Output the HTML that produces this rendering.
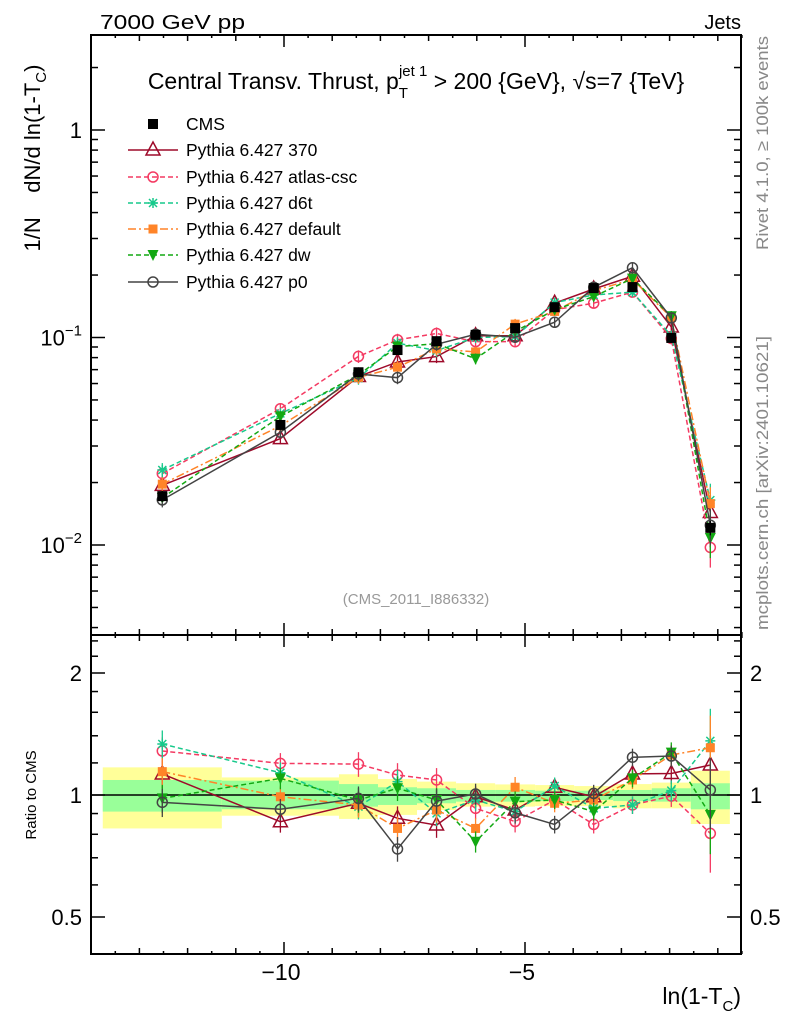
<!DOCTYPE html>
<html><head><meta charset="utf-8">
<style>
html,body{margin:0;padding:0;background:#fff;}
svg{display:block;font-family:"Liberation Sans",sans-serif;}
</style></head>
<body>
<svg id="c" width="786" height="1024" viewBox="0 0 786 1024" xmlns="http://www.w3.org/2000/svg">
<text x="100" y="29" font-size="20" textLength="145" lengthAdjust="spacingAndGlyphs">7000 GeV pp</text>
<text x="741" y="29" font-size="20" text-anchor="end">Jets</text>
<text x="416" y="89" font-size="23" text-anchor="middle">Central Transv. Thrust, p<tspan font-size="15" dy="9">T</tspan><tspan font-size="15" dx="-9" dy="-22">jet 1</tspan><tspan dy="13"> &gt; 200 {GeV}, √s=7 {TeV}</tspan></text>
<text x="416" y="604" font-size="15" fill="#999" text-anchor="middle">(CMS_2011_I886332)</text>
<text transform="translate(40,158) rotate(-90)" font-size="22" text-anchor="middle">1/N &#160;&#160; dN/d ln(1-T<tspan font-size="15" dy="6">C</tspan><tspan dy="-6">)</tspan></text>
<text transform="translate(768,250) rotate(-90)" font-size="17" fill="#888" textLength="214" lengthAdjust="spacingAndGlyphs">Rivet 4.1.0, ≥ 100k events</text>
<text transform="translate(768,630) rotate(-90)" font-size="17" fill="#888" textLength="294" lengthAdjust="spacingAndGlyphs">mcplots.cern.ch [arXiv:2401.10621]</text>
<text transform="translate(36,795) rotate(-90)" font-size="15" text-anchor="middle">Ratio to CMS</text>
<text x="741" y="1004" font-size="23" text-anchor="end">ln(1-T<tspan font-size="15" dy="7">C</tspan><tspan dy="-7">)</tspan></text>
<g id="bands"></g><g id="grid"></g><g id="series"></g><g id="legend"></g>
</svg>
<script>
const binEdges = [-13.76,-11.29,-8.86,-8.05,-7.24,-6.43,-5.62,-4.79,-3.98,-3.17,-2.37,-1.56,-0.75];
const cmsValues = [0.0172,0.0379,0.068,0.087,0.096,0.103,0.111,0.140,0.173,0.175,0.0995,0.0121];
const cmsErr = [0.06,0.05,0.05,0.05,0.04,0.04,0.04,0.04,0.04,0.04,0.05,0.08];
const yellowHi = [1.170,1.105,1.125,1.095,1.079,1.069,1.062,1.058,1.052,1.064,1.073,1.148];
const yellowLo = [0.827,0.889,0.873,0.893,0.918,0.936,0.936,0.939,0.939,0.927,0.927,0.848];
const greenHi = [1.089,1.085,1.064,1.045,1.039,1.029,1.029,1.025,1.025,1.029,1.039,1.069];
const greenLo = [0.910,0.922,0.936,0.945,0.954,0.963,0.963,0.966,0.972,0.966,0.963,0.922];
const ratio370 = [1.127,0.859,0.954,0.876,0.843,0.99,0.918,1.045,0.99,1.127,1.13,1.186];
const ratioAtlas = [1.284,1.197,1.192,1.12,1.089,0.927,0.86,0.972,0.846,0.945,0.994,0.804];
const ratioD6t = [1.336,1.135,0.936,1.079,0.901,0.972,0.91,1.052,0.927,0.945,1.025,1.36];
const ratioDefault = [1.142,0.99,0.945,0.827,0.918,0.827,1.045,0.954,0.972,1.089,1.255,1.308];
const ratioDw = [0.981,1.099,0.972,1.039,0.972,0.767,0.963,0.972,0.91,1.099,1.272,0.893];
const ratioP0 = [0.959,0.922,0.981,0.736,0.966,1.006,0.904,0.846,1.009,1.239,1.248,1.029];
const mcErr = [0.08,0.06,0.07,0.07,0.07,0.06,0.06,0.05,0.05,0.05,0.06,0.2];
const legendLabels = ["CMS","Pythia 6.427 370","Pythia 6.427 atlas-csc","Pythia 6.427 d6t","Pythia 6.427 default","Pythia 6.427 dw","Pythia 6.427 p0"];

const NS="http://www.w3.org/2000/svg";
const L=91,R=741,MT=35,MB=635,RB=954;
const X=x=>284+(x+10)*48.2;
const YM=v=>130-Math.log10(v)*207.5;
const YR=r=>795-Math.log2(r)*122;
function mk(tag,at,parent){const e=document.createElementNS(NS,tag);for(const k in at)e.setAttribute(k,at[k]);parent.appendChild(e);return e;}
const gB=document.getElementById('bands'),gG=document.getElementById('grid'),gS=document.getElementById('series'),gL=document.getElementById('legend');
const centers=cmsValues.map((_,i)=>(binEdges[i]+binEdges[i+1])/2);

for(let i=0;i<cmsValues.length;i++){
  const x0=X(binEdges[i]),x1=X(binEdges[i+1]);
  let r=mk('rect',{x:x0,y:YR(yellowHi[i]),width:x1-x0,height:YR(yellowLo[i])-YR(yellowHi[i]),fill:'#ffff99'},gB);
  
  
  r=mk('rect',{x:x0,y:YR(greenHi[i]),width:x1-x0,height:YR(greenLo[i])-YR(greenHi[i]),fill:'#99ff99'},gB);
  
  
}
let f=mk('rect',{x:L,y:MT,width:R-L,height:MB-MT,fill:'none',stroke:'#000','stroke-width':2},gG);


f=mk('rect',{x:L,y:MB,width:R-L,height:RB-MB,fill:'none',stroke:'#000','stroke-width':2},gG);


let ul=mk('line',{x1:L,x2:R,y1:YR(1),y2:YR(1),stroke:'#000','stroke-width':1.5},gG);


for(let v=-14;v<=-0.5;v+=0.5){
  const px=X(v);const maj=Math.abs(v%5)<1e-9;const mid=Math.abs(v%1)<1e-9;
  const len=maj?12:(mid?6:3);
  [MB,RB].forEach(yb=>{const t=mk('line',{x1:px,x2:px,y1:yb,y2:yb-len,stroke:'#000','stroke-width':1.5},gG);});
  [MT,MB].forEach(yt=>{const t=mk('line',{x1:px,x2:px,y1:yt,y2:yt+len,stroke:'#000','stroke-width':1.5},gG);});
}
const xTickLabels=["−10","−5"];const xTickVals=[-10,-5];
xTickVals.forEach((v,i)=>{const t=mk('text',{x:X(v)-3,y:980,'font-size':23,'text-anchor':'middle'},gG);t.textContent=xTickLabels[i];});
for(let d=-3;d<=0;d++){for(let m=1;m<10;m++){const v=m*Math.pow(10,d);const py=YM(v);if(py<MT||py>MB)continue;const len=m==1?14:7;
  [[L,L+len],[R,R-len]].forEach(p=>{const t=mk('line',{x1:p[0],x2:p[1],y1:py,y2:py,stroke:'#000','stroke-width':1.5},gG);});}}
const yMainTickVals=[1,0.1,0.01];const yMainExp=["","−1","−2"];
yMainTickVals.forEach((v,i)=>{const py=YM(v);let t;
  t=mk('text',{x:82,y:py+8,'font-size':22,'text-anchor':'end'},gG);
  if(yMainExp[i]==="")t.textContent="1";
  else t.innerHTML='10<tspan font-size="15" dy="-10">'+yMainExp[i]+'</tspan>';
  });
const rTicks=[0.5,0.6,0.7,0.8,0.9,1,1.2,1.4,1.6,1.8,2,2.2,2.4];
rTicks.forEach(v=>{const py=YR(v);if(py<MB||py>RB)return;const maj=(v==0.5||v==1||v==2);const len=maj?14:7;
  [[L,L+len],[R,R-len]].forEach(p=>{const t=mk('line',{x1:p[0],x2:p[1],y1:py,y2:py,stroke:'#000','stroke-width':1.5},gG);});});
const rLabelVals=[2,1,0.5];const rLabels=["2","1","0.5"];
rLabelVals.forEach((v,i)=>{[[82,'end'],[750,'start']].forEach(p=>{const t=mk('text',{x:p[0],y:YR(v)+8,'font-size':22,'text-anchor':p[1]},gG);t.textContent=rLabels[i];});});

function marker(type,x,y,col,g){
  let e;
  if(type=='sqF')e=mk('rect',{x:x-5,y:y-5,width:10,height:10,fill:col},g);
  else if(type=='sqO')e=mk('rect',{x:x-4.5,y:y-4.5,width:9,height:9,fill:col},g);
  else if(type=='triO')e=mk('path',{d:`M${x},${y-8}L${x+7},${y+5}L${x-7},${y+5}Z`,fill:'none',stroke:col,'stroke-width':1.5},g);
  else if(type=='triD')e=mk('path',{d:`M${x-5.5},${y-5}L${x+5.5},${y-5}L${x},${y+6}Z`,fill:col},g);
  else if(type=='circ')e=mk('circle',{cx:x,cy:y,r:5,fill:'none',stroke:col,'stroke-width':1.5},g);
  else if(type=='star')e=mk('path',{d:`M${x-5},${y}H${x+5}M${x},${y-5}V${y+5}M${x-4},${y-4}L${x+4},${y+4}M${x-4},${y+4}L${x+4},${y-4}`,stroke:col,'stroke-width':1.5},g);
  return e;
}
const mcSeries=[
  {name:'pythia-370',ratio:ratio370,col:'#9e0a2a',dash:'',mk:'triO'},
  {name:'pythia-atlas-csc',ratio:ratioAtlas,col:'#f43a62',dash:'5,3',mk:'circ'},
  {name:'pythia-d6t',ratio:ratioD6t,col:'#17c98b',dash:'5,3',mk:'star'},
  {name:'pythia-default',ratio:ratioDefault,col:'#ff8428',dash:'8,3,2,3',mk:'sqO'},
  {name:'pythia-dw',ratio:ratioDw,col:'#12a812',dash:'5,3',mk:'triD'},
  {name:'pythia-p0',ratio:ratioP0,col:'#444444',dash:'',mk:'circ'}
];
mcSeries.forEach(s=>{
  const g=mk('g',{},gS);
  
  
  const vals=cmsValues.map((c,i)=>c*s.ratio[i]);
  const pm=vals.map((v,i)=>X(centers[i])+','+YM(v)).join(' ');
  const pr=s.ratio.map((r,i)=>X(centers[i])+','+YR(r)).join(' ');
  [pm,pr].forEach(p=>mk('polyline',{points:p,fill:'none',stroke:s.col,'stroke-width':1.5,'stroke-dasharray':s.dash},g));
  vals.forEach((v,i)=>{
    const x=X(centers[i]);const e=mcErr[i];
    mk('line',{x1:x,x2:x,y1:YM(v*(1+e)),y2:YM(v*(1-e)),stroke:s.col,'stroke-width':1.3},g);
    mk('line',{x1:x,x2:x,y1:YR(s.ratio[i]*(1+e)),y2:YR(s.ratio[i]*(1-e)),stroke:s.col,'stroke-width':1.3},g);
    let m=marker(s.mk,x,YM(v),s.col,g);
    
    
    m=marker(s.mk,x,YR(s.ratio[i]),s.col,g);
    
    
  });
});
const gc=mk('g',{},gS);


cmsValues.forEach((v,i)=>{
  const x=X(centers[i]);
  mk('line',{x1:x,x2:x,y1:YM(v*(1+cmsErr[i])),y2:YM(v*(1-cmsErr[i])),stroke:'#000','stroke-width':1.3},gc);
  const m=marker('sqF',x,YM(v),'#000',gc);
  
  
});
const legY=[124,150,177,203,229,255,282];
const legStyles=[{col:'#000',dash:'',mk:'sqF',line:false}].concat(mcSeries.map(s=>({col:s.col,dash:s.dash,mk:s.mk,line:true})));
legendLabels.forEach((lab,i)=>{
  const g=mk('g',{},gL);
  
  
  const st=legStyles[i],y=legY[i];
  if(st.line)mk('line',{x1:128,x2:178,y1:y,y2:y,stroke:st.col,'stroke-width':1.5,'stroke-dasharray':st.dash},g);
  marker(st.mk,153,y,st.col,g);
  const t=mk('text',{x:186,y:y+6,'font-size':17.5},g);t.textContent=lab;
});
</script>
</body></html>
